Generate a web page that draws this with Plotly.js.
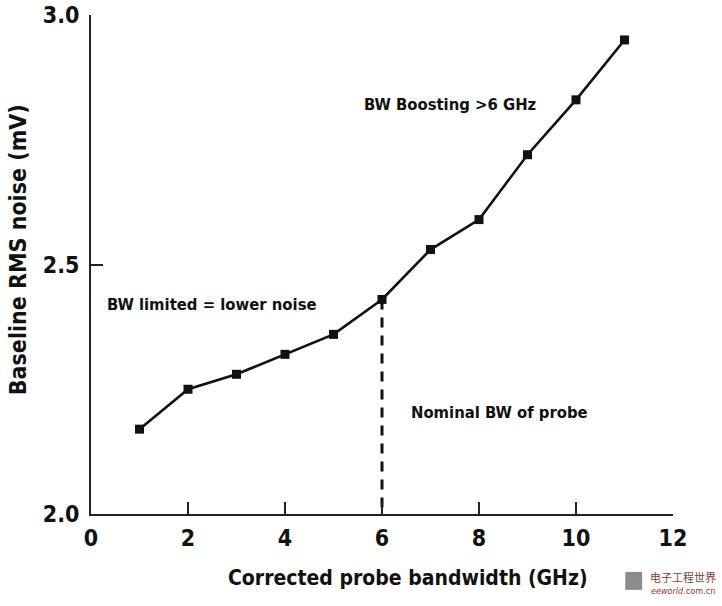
<!DOCTYPE html>
<html>
<head>
<meta charset="utf-8">
<script src="https://cdn.plot.ly/plotly-3.0.1.min.js"></script>
<style>
  html, body { margin: 0; padding: 0; background: #fff; }
  #chart { width: 722px; height: 606px; }
</style>
</head>
<body>
<div id="chart"></div>
<script>
// corrected probe bandwidth (GHz) vs baseline RMS noise (mV)
var bandwidth = [1, 2, 3, 4, 5, 6, 7, 8, 9, 10, 11];
var rmsNoise = [2.17, 2.25, 2.28, 2.32, 2.36, 2.43, 2.53, 2.59, 2.72, 2.83, 2.95];
var nominalBw = 6;
var yFloor = 2.0;
var xTicks = [0, 2, 4, 6, 8, 10, 12];
var yTicks = [2.0, 2.5, 3.0];
var yTickText = ['2.0', '2.5', '3.0'];

var font = 'Liberation Sans Narrow, DejaVu Sans Condensed, Arial Narrow, sans-serif';
var ink = '#111';

var nominalY = rmsNoise[bandwidth.indexOf(nominalBw)];

var traces = [
    {
        x: [nominalBw, nominalBw],
        y: [nominalY, yFloor],
        mode: 'lines',
        line: { color: ink, width: 3, dash: '10px,8px' },
        hoverinfo: 'skip'
    },
    {
        x: bandwidth,
        y: rmsNoise,
        mode: 'lines+markers',
        line: { color: ink, width: 2.6 },
        marker: { symbol: 'square', size: 9, color: ink },
        cliponaxis: false
    }
];

var axisBase = {
    showgrid: false,
    zeroline: false,
    showline: true,
    linecolor: '#222',
    linewidth: 2,
    ticks: 'inside',
    ticklen: 12,
    tickwidth: 2,
    tickcolor: '#222',
    tickfont: { family: font, size: 23, color: ink, weight: 'bold' },
    fixedrange: true
};

var layout = {
    width: 722,
    height: 606,
    margin: { l: 91, r: 49, t: 15, b: 92 },
    paper_bgcolor: '#fff',
    plot_bgcolor: '#fff',
    showlegend: false,
    xaxis: Object.assign({}, axisBase, {
        range: [0, 12],
        tickvals: xTicks,
        ticklabelstandoff: 2
    }),
    yaxis: Object.assign({}, axisBase, {
        range: [2, 3],
        tickvals: yTicks,
        ticktext: yTickText,
        ticklabelstandoff: 5
    }),
    annotations: [
        {
            text: 'Corrected probe bandwidth (GHz)',
            xref: 'paper', yref: 'paper',
            x: 0.545, y: -0.128,
            xanchor: 'center', yanchor: 'middle',
            showarrow: false,
            font: { family: font, size: 21, color: ink, weight: 'bold' }
        },
        {
            text: 'Baseline RMS noise (mV)',
            xref: 'paper', yref: 'paper',
            x: -0.126, y: 0.53,
            xanchor: 'center', yanchor: 'middle',
            textangle: -90,
            showarrow: false,
            font: { family: font, size: 23, color: ink, weight: 'bold' }
        },
        {
            text: 'BW Boosting >6 GHz',
            x: 7.4, y: 2.821,
            showarrow: false,
            font: { family: font, size: 16.5, color: ink, weight: 'bold' }
        },
        {
            text: 'BW limited = lower noise',
            x: 2.49, y: 2.42,
            showarrow: false,
            font: { family: font, size: 16.5, color: ink, weight: 'bold' }
        },
        {
            text: 'Nominal BW of probe',
            x: 8.43, y: 2.203,
            showarrow: false,
            font: { family: font, size: 16.5, color: ink, weight: 'bold' }
        },
        {
            text: '电子工程世界',
            xref: 'paper', yref: 'paper',
            x: 1.017, y: -0.126,
            xanchor: 'center', yanchor: 'middle',
            showarrow: false,
            font: { family: 'Noto Sans CJK SC', size: 11, color: '#8a3b2a' }
        },
        {
            text: '<i>eeworld</i>.com.cn',
            xref: 'paper', yref: 'paper',
            x: 1.017, y: -0.154,
            xanchor: 'center', yanchor: 'middle',
            showarrow: false,
            font: { family: 'DejaVu Sans Condensed', size: 9, color: '#8a3b2a' }
        }
    ],
    shapes: [
        {
            type: 'rect', xref: 'paper', yref: 'paper',
            x0: 0.918, x1: 0.947, y0: -0.152, y1: -0.116,
            fillcolor: '#8c8c8c', line: { width: 0 }
        }
    ]
};

Plotly.newPlot('chart', traces, layout, { displayModeBar: false, staticPlot: true });
</script>
</body>
</html>
